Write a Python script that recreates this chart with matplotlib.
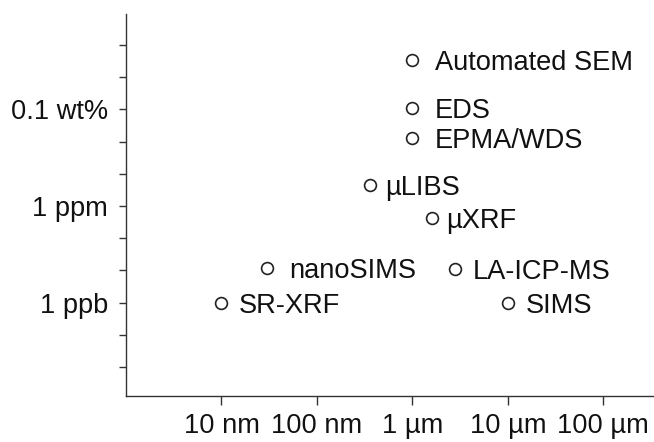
import matplotlib
matplotlib.use("Agg")
import matplotlib.pyplot as plt

# ---- data ----
techniques = ["Automated SEM", "EDS", "EPMA/WDS", "\u00b5LIBS", "\u00b5XRF",
              "nanoSIMS", "LA-ICP-MS", "SR-XRF", "SIMS"]
resolution_nm = [1000, 1000, 1000, 360, 1620, 30, 2800, 10, 10000]
detection_ppm = [33000, 1100, 130, 4.6, 0.42, 0.012, 0.011, 0.001, 0.001]

xtick_values = [10, 100, 1000, 1e4, 1e5]
xtick_labels = ["10 nm", "100 nm", "1 \u00b5m", "10 \u00b5m", "100 \u00b5m"]
ytick_values = [1e3, 1, 1e-3]
ytick_labels = ["0.1 wt%", "1 ppm", "1 ppb"]
ytick_decades = [10.0 ** k for k in range(-5, 6)]

# ---- layout ----
label_offsets_px = [23, 22, 22, 15, 14, 22, 18, 17, 18]

plt.rcParams['font.family'] = ['Liberation Sans', 'DejaVu Sans']
fig = plt.figure(figsize=(6.54, 4.42), dpi=100)
ax = fig.add_axes([126 / 654, 1 - 396 / 442, 1 - 126 / 654 + 0.01, (396 - 14) / 442])

ax.set_xscale('log')
ax.set_yscale('log')
ax.set_xlim(10 ** 0.0, 10 ** 5.6)
ax.set_ylim(10 ** -5.9, 10 ** 5.96)

ax.plot(resolution_nm, detection_ppm, linestyle='none', marker='o',
        markersize=8.5, markerfacecolor='white', markeredgecolor='#222222',
        markeredgewidth=1.2, clip_on=False)

for name, x, y, off in zip(techniques, resolution_nm, detection_ppm, label_offsets_px):
    ax.annotate(name, (x, y), xytext=(off * 0.72, 0), textcoords='offset points',
                fontsize=19.6, va='center_baseline', ha='left', color='#111111')

ax.spines['top'].set_visible(False)
ax.spines['right'].set_visible(False)
for s in ('left', 'bottom'):
    ax.spines[s].set_linewidth(1.0)
    ax.spines[s].set_color('#333333')

ax.set_xticks(xtick_values)
ax.set_xticklabels(xtick_labels)
ax.xaxis.set_minor_locator(matplotlib.ticker.NullLocator())
ax.set_yticks(ytick_decades)
ax.set_yticklabels([ytick_labels[ytick_values.index(v)] if v in ytick_values else ""
                    for v in ytick_decades])
ax.yaxis.set_minor_locator(matplotlib.ticker.NullLocator())
ax.tick_params(axis='x', length=6.5, width=1.0, color='#333333', pad=6,
               labelsize=19.6, labelcolor='#111111')
ax.tick_params(axis='y', length=5, width=1.0, color='#333333', pad=8,
               labelsize=19.6, labelcolor='#111111')

fig.savefig("out.png", dpi=100)
